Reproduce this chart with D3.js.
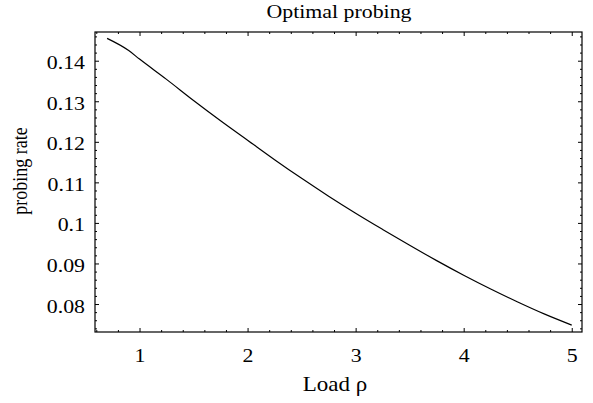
<!DOCTYPE html>
<html>
<head>
<meta charset="utf-8">
<script src="https://cdn.jsdelivr.net/npm/d3@7"></script>
<style>
  body { margin: 0; background: #fff; }
  svg { display: block; }
</style>
</head>
<body>
<div id="chart"></div>
<script>
// load rho
var loadValues = [0.7, 0.9, 1.0, 1.25, 1.5, 1.75, 2.0, 2.25, 2.5, 2.75, 3.0, 3.25, 3.5, 3.75, 4.0, 4.25, 4.5, 4.75, 5.0];
// optimal probing rate
var rateValues = [0.1455, 0.1425, 0.1404, 0.1354, 0.1302, 0.1252, 0.1204, 0.1156, 0.1110, 0.1066, 0.1024, 0.0984, 0.0945, 0.0907, 0.0871, 0.0837, 0.0805, 0.0775, 0.0748];

var xTicks = [1, 2, 3, 4, 5];
var xTickLabels = ["1", "2", "3", "4", "5"];
var yTicks = [0.08, 0.09, 0.10, 0.11, 0.12, 0.13, 0.14];
var yTickLabels = ["0.08", "0.09", "0.1", "0.11", "0.12", "0.13", "0.14"];

var titleText = "Optimal probing",
    xLabelText = "Load \u03c1",
    yLabelText = "probing rate";

var width = 593,
    height = 403,
    frame = {left: 95, right: 582, top: 32, bottom: 332},
    stretch = 1.15,
    fontSize = 19,
    serif = "'Liberation Serif', 'Times New Roman', Times, serif";

var svg = d3.select("#chart").append("svg")
    .attr("width", width)
    .attr("height", height);

var x = d3.scaleLinear()
    .domain([0.588, 5.095])
    .range([frame.left, frame.right]);

var y = d3.scaleLinear()
    .domain([0.0731, 0.14708])
    .range([frame.bottom, frame.top]);

// minor ticks every 0.2 on x, 0.002 on y
var xMinor = d3.range(6, 51, 2).map(function(d){ return d / 10; })
    .filter(function(d){ return Math.abs(d - Math.round(d)) > 1e-6; });
var yMinor = d3.range(74, 148, 2)
    .filter(function(d){ return d % 10 != 0; })
    .map(function(d){ return d / 1000; })
    .filter(function(d){ return y(d) >= frame.top && y(d) <= frame.bottom; });

function tickAxis(axisFn, scale, values, size, pos) {
  var g = svg.append("g")
      .attr("transform", pos)
      .call(axisFn(scale).tickValues(values).tickSize(size).tickFormat(""));
  g.select(".domain").remove();
  g.selectAll("line").attr("stroke", "#000").attr("stroke-width", 1);
  return g;
}

// bottom
var xAxisG = svg.append("g")
    .attr("transform", "translate(0," + frame.bottom + ")")
    .call(d3.axisBottom(x).tickValues(xTicks).tickSize(-4)
      .tickFormat(function(d, i){ return xTickLabels[i]; }));
xAxisG.select(".domain").remove();
xAxisG.selectAll("line").attr("stroke", "#000");
xAxisG.selectAll("text")
    .attr("y", null).attr("dy", null)
    .attr("transform", "translate(0,30) scale(" + stretch + ",1)")
    .style("font-family", serif)
    .style("font-size", fontSize + "px")
    .style("fill", "#000");
tickAxis(d3.axisBottom, x, xMinor, -2, "translate(0," + frame.bottom + ")");

// top
tickAxis(d3.axisTop, x, xTicks, -4, "translate(0," + frame.top + ")");
tickAxis(d3.axisTop, x, xMinor, -2, "translate(0," + frame.top + ")");

// left
var yAxisG = svg.append("g")
    .attr("transform", "translate(" + frame.left + ",0)")
    .call(d3.axisLeft(y).tickValues(yTicks).tickSize(-4)
      .tickFormat(function(d, i){ return yTickLabels[i]; }));
yAxisG.select(".domain").remove();
yAxisG.selectAll("line").attr("stroke", "#000");
yAxisG.selectAll("text")
    .attr("x", null).attr("dy", null)
    .attr("transform", "translate(-10,8) scale(" + stretch + ",1)")
    .style("font-family", serif)
    .style("font-size", fontSize + "px")
    .style("fill", "#000");
tickAxis(d3.axisLeft, y, yMinor, -2, "translate(" + frame.left + ",0)");

// right
tickAxis(d3.axisRight, y, yTicks, -4, "translate(" + frame.right + ",0)");
tickAxis(d3.axisRight, y, yMinor, -2, "translate(" + frame.right + ",0)");

// frame
svg.append("rect")
    .attr("x", frame.left)
    .attr("y", frame.top)
    .attr("width", frame.right - frame.left)
    .attr("height", frame.bottom - frame.top)
    .attr("fill", "none")
    .attr("stroke", "#000")
    .attr("stroke-width", 1.2);

// curve
var line = d3.line()
    .x(function(d){ return x(d[0]); })
    .y(function(d){ return y(d[1]); })
    .curve(d3.curveMonotoneX);

svg.append("path")
    .datum(loadValues.map(function(d, i){ return [d, rateValues[i]]; }))
    .attr("d", line)
    .attr("fill", "none")
    .attr("stroke", "#000")
    .attr("stroke-width", 1.2);

// titles
svg.append("text")
    .attr("transform", "translate(339,18) scale(" + stretch + ",1)")
    .attr("text-anchor", "middle")
    .style("font-family", serif)
    .style("font-size", fontSize + "px")
    .text(titleText);

svg.append("text")
    .attr("transform", "translate(335,391) scale(" + stretch + ",1)")
    .attr("text-anchor", "middle")
    .style("font-family", serif)
    .style("font-size", (fontSize + 1) + "px")
    .text(xLabelText);

svg.append("text")
    .attr("transform", "translate(27,171) rotate(-90) scale(1,1.15)")
    .attr("text-anchor", "middle")
    .style("font-family", serif)
    .style("font-size", "18px")
    .text(yLabelText);
</script>
</body>
</html>
